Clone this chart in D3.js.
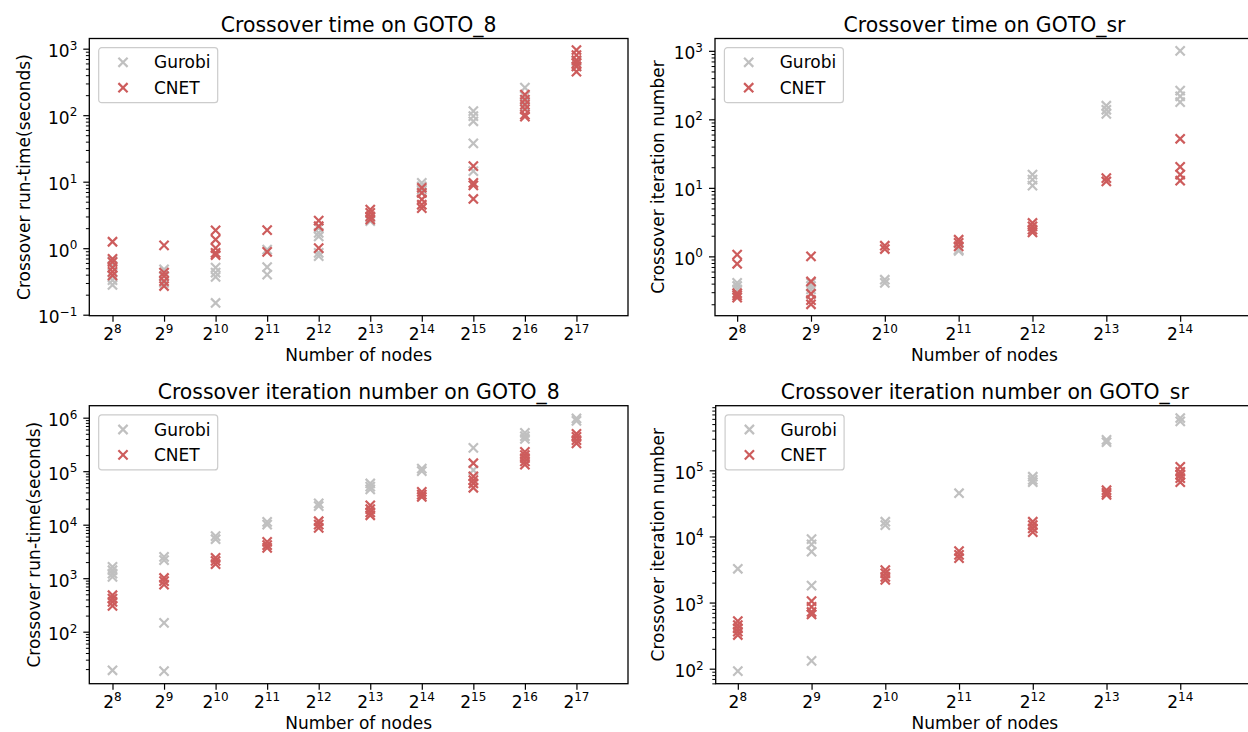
<!DOCTYPE html>
<html><head><meta charset="utf-8">
<script src="https://cdn.jsdelivr.net/npm/d3@7"></script>
<style>body{margin:0;background:#fff} svg text{font-family:"DejaVu Sans",sans-serif;fill:#000}</style>
</head><body><svg id="c" width="1248" height="732"></svg>
<script>
// ---------- data ----------
const nodesGOTO8  = [256, 512, 1024, 2048, 4096, 8192, 16384, 32768, 65536, 131072];
const nodesGOTOsr = [256, 512, 1024, 2048, 4096, 8192, 16384];
const seriesNames = ["Gurobi", "CNET"];

// Crossover time on GOTO_8 (seconds)
const timeGOTO8Gurobi = [[0.28,0.33,0.38,0.54,0.64],[0.30,0.38,0.43,0.48],[0.15,0.37,0.43,0.51],[0.40,0.52,0.95],
  [0.76,0.85,1.5,1.7,2.0],[2.55,2.9],[6.8,7.6,8.5,9.6],[14.4,37.6,81,97,115],[136,162,194,260],[540,650]];
const timeGOTO8CNET = [[0.39,0.44,0.51,0.62,0.69,1.25],[0.27,0.32,0.38,0.43,1.1],[0.79,0.85,1.0,1.35,1.85],[0.88,1.87],
  [1.0,2.14,2.6],[2.7,3.0,3.4,3.8],[4.0,4.5,5.4,6.8,8.1],[5.5,8.8,9.6,17.1],[95,102,122,144,172,204],[450,540,600,670,800,955]];

// Crossover time on GOTO_sr
const timeGOTOsrGurobi = [[0.33,0.37,0.41],[0.28,0.33,0.37,0.41],[0.41,0.456],[1.2,1.25],[10.8,13.2,15.6],[120,138,158],[178,217,263,1000]];
const timeGOTOsrCNET = [[0.25,0.27,0.29,0.78,1.06],[0.20,0.23,0.285,0.43,1.0],[1.28,1.43],[1.4,1.57,1.75],[2.24,2.45,2.74,3.07],[12.4,13.9],[12.7,15.6,20.2,52]];

// Crossover iteration number on GOTO_8
const iterGOTO8Gurobi = [[19,1060,1220,1410,1630],[18.3,146,2170,2500],[5350,6100],[10000,11300],[22300,25000],
  [45800,51500,59000],[100000,112000],[105000,272000],[400000,450000,520000],[870000,966000]];
const iterGOTO8CNET = [[303,360,417,480],[760,880,1010],[1830,2100,2400],[3690,4140,4760],[8700,10000,11600],
  [15000,17000,19500,23000],[33000,36500,41000],[49000,59000,68000,80000,141000],[133000,152000,175000,200000,230000],[330000,380000,437000,500000]];

// Crossover iteration number on GOTO_sr
const iterGOTOsrGurobi = [[92,3240],[131,1800,5900,7600,9100],[14800,16700],[45000],[66000,71600,80000],[266000,288000],[550000,617000]];
const iterGOTOsrCNET = [[323,362,407,457,525],[660,720,860,1050],[2200,2450,2760,3100],[4700,5250,6000],[11600,13200,14800,16700],[42500,45700,50000],[66000,76000,85000,95000,113000]];

const titles = ["Crossover time on GOTO_8","Crossover time on GOTO_sr","Crossover iteration number on GOTO_8","Crossover iteration number on GOTO_sr"];
const yLabels = ["Crossover run-time(seconds)","Crossover iteration number","Crossover run-time(seconds)","Crossover iteration number"];
const xLabel = "Number of nodes";

// ---------- layout ----------
const colors = {Gurobi:"#c0c0c0", CNET:"#cd5c5c"};
const FS = 17, TFS = 20.4, SUP = 12;
const panels = [
  {nodes:nodesGOTO8, g:timeGOTO8Gurobi, c:timeGOTO8CNET, L:89.3, R:628, T:38.5, B:315.7, xe:[7.55,18], ye:[-1.015,3.153], ylx:24},
  {nodes:nodesGOTOsr, g:timeGOTOsrGurobi, c:timeGOTOsrCNET, L:715, R:1254, T:38.5, B:315.7, xe:[7.7,15], ye:[-0.866,3.18], ylx:658},
  {nodes:nodesGOTO8, g:iterGOTO8Gurobi, c:iterGOTO8CNET, L:89.3, R:628, T:405.7, B:683.7, xe:[7.55,18], ye:[1.028,6.224], ylx:34},
  {nodes:nodesGOTOsr, g:iterGOTOsrGurobi, c:iterGOTOsrCNET, L:715.7, R:1254, T:405.7, B:683.7, xe:[7.7,15], ye:[1.773,5.977], ylx:658}
];

const svg = d3.select("#c");
const xMark = r => `M${-r},${-r}L${r},${r}M${-r},${r}L${r},${-r}`;

function supLabel(sel, base, exp){
  sel.append("tspan").text(base);
  sel.append("tspan").attr("font-size", SUP).attr("dy", -7.5).text(exp);
}

panels.forEach((p, i) => {
  const g = svg.append("g");
  const x = d3.scaleLog().base(2).domain([2**p.xe[0], 2**p.xe[1]]).range([p.L, p.R]);
  const y = d3.scaleLog().domain([10**p.ye[0], 10**p.ye[1]]).range([p.B, p.T]);

  // y ticks
  const majors = d3.range(Math.ceil(p.ye[0]-1e-9), Math.floor(p.ye[1]+1e-9)+1).map(n => 10**n);
  const minors = [];
  for (let n = Math.floor(p.ye[0]); n <= Math.ceil(p.ye[1]); n++)
    for (let m = 2; m <= 9; m++) { const v = m*10**n; if (v >= 10**p.ye[0] && v <= 10**p.ye[1]) minors.push(v); }

  const yMinor = g.append("g").attr("transform", `translate(${p.L},0)`)
    .call(d3.axisLeft(y).tickValues(minors).tickSize(3.4).tickSizeOuter(0).tickFormat(""));
  const yMajor = g.append("g").attr("transform", `translate(${p.L},0)`)
    .call(d3.axisLeft(y).tickValues(majors).tickSize(6).tickSizeOuter(0).tickFormat(""));
  const xAx = g.append("g").attr("transform", `translate(0,${p.B})`)
    .call(d3.axisBottom(x).tickValues(p.nodes).tickSize(6).tickSizeOuter(0).tickFormat(""));
  [yMinor, yMajor, xAx].forEach(a => { a.select(".domain").remove(); a.selectAll("line").attr("stroke","#000").attr("stroke-width",1.2); });
  yMinor.selectAll("line").attr("stroke-width",1.0);

  // y tick labels
  majors.forEach(v => {
    const n = Math.round(Math.log10(v));
    const t = g.append("text").attr("x", p.L - 12).attr("y", y(v) + 8.5)
      .attr("text-anchor","end").attr("font-size", FS);
    supLabel(t, "10", n < 0 ? "\u2212" + (-n) : String(n));
  });
  // x tick labels
  p.nodes.forEach(v => {
    const e = Math.round(Math.log2(v));
    const t = g.append("text").attr("x", x(v)).attr("y", p.B + 24.3)
      .attr("text-anchor","middle").attr("font-size", FS);
    supLabel(t, "2", String(e));
  });

  // points
  const plot = g.append("g");
  [[p.g, "Gurobi"], [p.c, "CNET"]].forEach(([arr, name]) => {
    const pts = [];
    arr.forEach((vals, k) => vals.forEach(v => pts.push([p.nodes[k], v])));
    plot.selectAll(null).data(pts).enter().append("path")
      .attr("d", xMark(4.6))
      .attr("transform", d => `translate(${x(d[0])},${y(d[1])})`)
      .attr("fill","none").attr("stroke", colors[name]).attr("stroke-width", 2.2);
  });

  // frame
  g.append("rect").attr("x", p.L).attr("y", p.T).attr("width", p.R - p.L).attr("height", p.B - p.T)
    .attr("fill","none").attr("stroke","#000").attr("stroke-width",1.3);

  // legend
  const lg = g.append("g").attr("transform", `translate(${p.L + 9.4},${p.T + 9.2})`);
  lg.append("rect").attr("width",119).attr("height",55).attr("rx",3).attr("ry",3)
    .attr("fill","#fff").attr("fill-opacity",0.8).attr("stroke","#cccccc").attr("stroke-width",1.2);
  seriesNames.forEach((name, k) => {
    const yy = 14.6 + k*25.4;
    lg.append("path").attr("d", xMark(4.6)).attr("transform", `translate(24.3,${yy})`)
      .attr("fill","none").attr("stroke", colors[name]).attr("stroke-width", 2.2);
    lg.append("text").attr("x", 55.3).attr("y", yy + 6.2).attr("font-size", FS).text(name);
  });

  // title & labels
  g.append("text").attr("x", (p.L + p.R)/2).attr("y", p.T - 6.5).attr("text-anchor","middle")
    .attr("font-size", TFS).text(titles[i]);
  g.append("text").attr("x", (p.L + p.R)/2).attr("y", p.B + 45.3).attr("text-anchor","middle")
    .attr("font-size", FS).text(xLabel);
  g.append("text").attr("transform", `translate(${p.ylx},${(p.T + p.B)/2}) rotate(-90)`)
    .attr("text-anchor","middle").attr("dy","0.36em").attr("font-size", FS).text(yLabels[i]);
});
</script></body></html>
